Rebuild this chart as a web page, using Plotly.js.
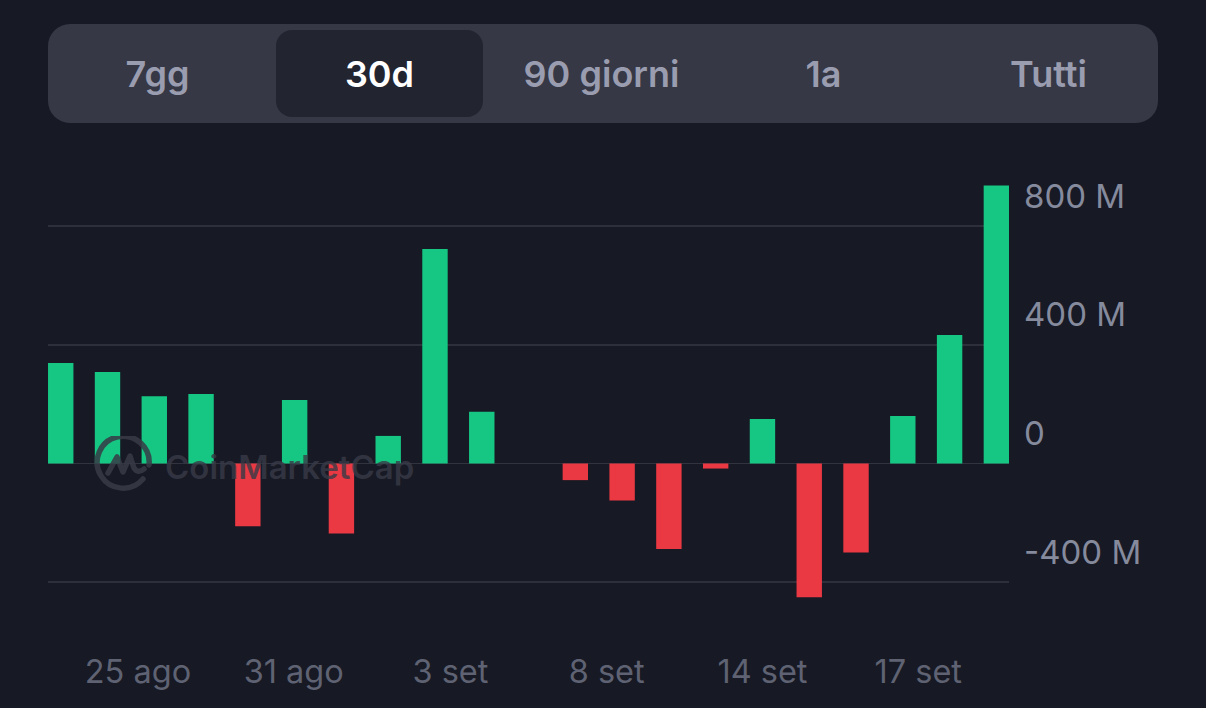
<!DOCTYPE html>
<html>
<head>
<meta charset="utf-8">
<script src="https://cdn.plot.ly/plotly-3.0.1.min.js"></script>
<style>
  html, body { margin: 0; padding: 0; background: #171924; overflow: hidden; }
  #chart { position: absolute; left: 0; top: 0; width: 1206px; height: 708px; }
  #tabs {
    position: absolute; left: 48px; top: 24px; width: 1110px; height: 99px;
    background: #363845; border-radius: 22px; display: flex; z-index: 2;
    font-family: Inter, sans-serif; font-size: 36px; font-weight: 600; color: #9a9db0;
  }
  #tabs div { flex: 1; display: flex; align-items: center; justify-content: center; padding-right: 3px; }
  #tabs div:last-child { padding-right: 0; padding-left: 3px; }
  #tabs .active { color: #fff; position: relative; z-index: 1; }
  #tabs .active::before {
    content: ""; position: absolute; left: 6px; right: 9px; top: 6px; bottom: 6px;
    background: #222530; border-radius: 16px; z-index: -1;
  }
  #logo { position: absolute; left: 94px; top: 436px; z-index: 2; pointer-events: none; opacity: 0.85; }
</style>
</head>
<body>
<div id="tabs"></div>
<div id="chart"></div>
<svg id="logo" width="60" height="58" viewBox="0 0 60 58" fill="none" stroke="#383b47" stroke-width="5.5">
  <path d="M49 43 A26 26 0 1 1 55 29" stroke-linecap="round"/>
  <path d="M14 37 L23 21 L29 36 L36 20 L40 32 Q44 38 50 33" stroke-linejoin="round" stroke-linecap="round"/>
</svg>
<script>
const tabLabels = ['7gg', '30d', '90 giorni', '1a', 'Tutti']
const activeTab = '30d'

// millions
const barIndex = [0,1,2,3,4,5,6,7,8,9,10,11,12,13,14,15,16,17,18,19,20]
const netValues = [339,308,227,234,-211,214,-236,93,723,174,0,-56,-125,-288,-17,150,-451,-300,160,433,937]

const dateTickPos = [1.65,4.98,8.33,11.67,15,18.33]
const dateTicks = ['25 ago','31 ago','3 set','8 set','14 set','17 set']
const valueTicks = [-400,0,400,800]
const valueLabels = ['-400 M','0','400 M','800 M']

document.getElementById('tabs').innerHTML = tabLabels
    .map(t => '<div class="' + (t === activeTab ? 'active' : '') + '">' + t + '</div>').join('')

const bars = {
    type: 'bar',
    x: barIndex,
    y: netValues,
    width: 0.543,
    marker: { color: netValues.map(v => v >= 0 ? '#16c784' : '#ea3943'), line: { width: 0 } },
    hoverinfo: 'skip'
}

const layout = {
    width: 1206,
    height: 708,
    paper_bgcolor: 'rgba(0,0,0,0)',
    plot_bgcolor: 'rgba(0,0,0,0)',
    margin: { l: 48, r: 197, t: 140, b: 59 },
    showlegend: false,
    font: { family: 'Inter, sans-serif' },
    xaxis: {
        type: 'linear',
        range: [-0.272, 20.27],
        tickmode: 'array',
        tickvals: dateTickPos,
        ticktext: dateTicks,
        tickangle: 0,
        ticklen: 0,
        showgrid: false,
        zeroline: false,
        showline: false,
        tickfont: { size: 32.5, color: '#5e6272' }
    },
    yaxis: {
        side: 'right',
        range: [-625, 1090],
        tickmode: 'array',
        tickvals: valueTicks,
        ticktext: valueLabels,
        ticklen: 0,
        ticklabelstandoff: 14,
        ticklabelshift: -30,
        gridcolor: '#2d2f3a',
        gridwidth: 1.5,
        zeroline: true,
        zerolinecolor: '#31333e',
        zerolinewidth: 1.5,
        showline: false,
        tickfont: { size: 33, color: '#858a9d' }
    },
    annotations: [{
        text: 'CoinMarketCap',
        xref: 'paper', yref: 'paper',
        x: 0.12, y: 0.357,
        xanchor: 'left', yanchor: 'middle',
        showarrow: false,
        opacity: 0.8,
        font: { size: 33, color: '#383b47', family: 'Inter, sans-serif', weight: 600 }
    }]
}

Plotly.newPlot('chart', [bars], layout, { displayModeBar: false, staticPlot: true })
</script>
</body>
</html>
